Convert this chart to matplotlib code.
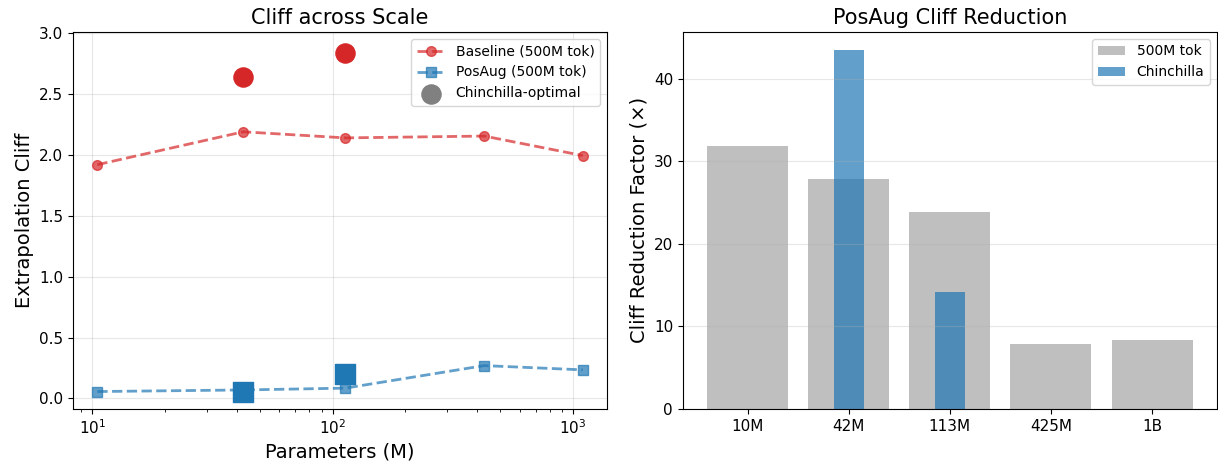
import numpy as np
import matplotlib
matplotlib.use("Agg")
import matplotlib.pyplot as plt

# ── data ─────────────────────────────────────────────────────────────────────
params_m = [10.5, 42.5, 113, 428, 1100]
baseline_cliff = [1.92, 2.19, 2.14, 2.155, 1.995]
posaug_cliff = [0.057, 0.07, 0.085, 0.27, 0.235]

chin_params = [42.5, 113]
chin_baseline = [2.642, 2.836]
chin_posaug = [0.057, 0.197]

size_labels = ["10M", "42M", "113M", "425M", "1B"]
reduction_500m = [31.8, 27.9, 23.9, 7.9, 8.3]
chin_idx = [1, 2]
reduction_chin = [43.5, 14.1]

RED = "#d62728"
BLUE = "#1f77b4"

fig, (ax1, ax2) = plt.subplots(1, 2, figsize=(12.18, 4.63))
fig.subplots_adjust(left=0.060, right=0.999, top=0.931, bottom=0.117, wspace=0.142)

# ── left: cliff across scale ────────────────────────────────────────────────
ax1.plot(params_m, baseline_cliff, "o--", color=RED, alpha=0.7, lw=2,
         markersize=7, label="Baseline (500M tok)")
ax1.plot(params_m, posaug_cliff, "s--", color=BLUE, alpha=0.7, lw=2,
         markersize=7, label="PosAug (500M tok)")
ax1.scatter(chin_params, chin_baseline, marker="o", s=190, color=RED, zorder=5)
ax1.scatter(chin_params, chin_posaug, marker="s", s=190, color=BLUE, zorder=5)
ax1.scatter([], [], marker="o", s=190, color="gray", label="Chinchilla-optimal")
ax1.set_xscale("log")
ax1.set_ylim(-0.085, 3.01)
ax1.set_xlabel("Parameters (M)", fontsize=14)
ax1.set_ylabel("Extrapolation Cliff", fontsize=14)
ax1.set_title("Cliff across Scale", fontsize=15)
ax1.tick_params(labelsize=11)
ax1.grid(True, alpha=0.3)
ax1.legend(fontsize=10, loc="upper right")

# ── right: reduction factor bars ────────────────────────────────────────────
x = np.arange(len(size_labels))
ax2.bar(x, reduction_500m, width=0.8, color="gray", alpha=0.5, label="500M tok")
ax2.bar([x[i] for i in chin_idx], reduction_chin, width=0.3, color=BLUE,
        alpha=0.7, label="Chinchilla")
ax2.set_xticks(x)
ax2.set_xticklabels(size_labels)
ax2.set_ylabel("Cliff Reduction Factor (×)", fontsize=14)
ax2.set_title("PosAug Cliff Reduction", fontsize=15)
ax2.tick_params(labelsize=11)
ax2.grid(axis="y", alpha=0.3)
ax2.legend(fontsize=10, loc="upper right")

fig.savefig("out.png", dpi=100)
